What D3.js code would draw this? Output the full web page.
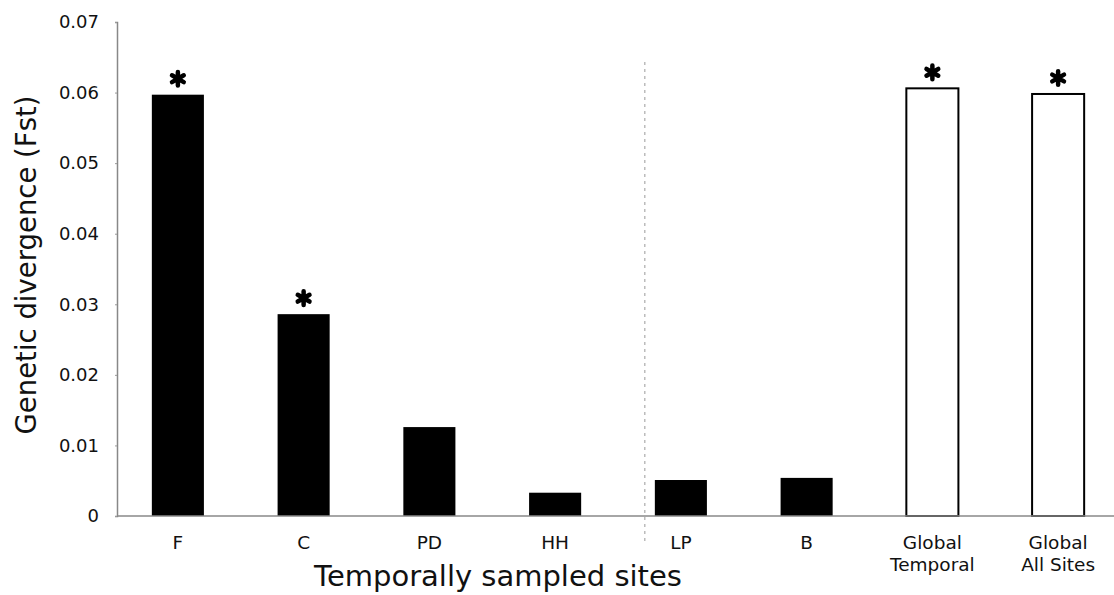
<!DOCTYPE html>
<html>
<head>
<meta charset="utf-8">
<script src="https://cdn.jsdelivr.net/npm/d3@7"></script>
<style>
  body { margin: 0; background: #fff; }
  svg { display: block; font-family: "DejaVu Sans", Verdana, sans-serif; }
  .tick text { fill: #111; }
</style>
</head>
<body>
<svg id="chart" width="1114" height="595"></svg>
<script>
// data
var sites = ['F', 'C', 'PD', 'HH', 'LP', 'B', 'Global Temporal', 'Global All Sites'];
var siteLabels = [['F'], ['C'], ['PD'], ['HH'], ['LP'], ['B'], ['Global', 'Temporal'], ['Global', 'All Sites']];
var fst = [0.0597, 0.0286, 0.0126, 0.0033, 0.0051, 0.0054, 0.0606, 0.0598];
var significant = [true, true, false, false, false, false, true, true];
var hollow = [false, false, false, false, false, false, true, true];
var yTicks = [0, 0.01, 0.02, 0.03, 0.04, 0.05, 0.06, 0.07];

var svg = d3.select('#chart');
var axisX = 117, plotBottom = 516, plotTop = 22;

var x = d3.scaleBand()
	.domain(sites)
	.range([115, 1121])
	.paddingInner(0.586)
	.paddingOuter(0.293);

var y = d3.scaleLinear()
	.domain([0, 0.07])
	.range([plotBottom, plotTop]);

// divider between the site groups (just left of LP bar)
var divX = x('LP') - 10;
svg.append('line')
	.attr('x1', divX).attr('x2', divX)
	.attr('y1', 62).attr('y2', 545)
	.attr('stroke', '#999')
	.attr('stroke-width', 1)
	.attr('stroke-dasharray', '3,4');

// bars
svg.selectAll('rect.bar')
	.data(sites)
	.enter().append('rect')
	.attr('class', 'bar')
	.attr('x', function(d) { return x(d); })
	.attr('width', x.bandwidth())
	.attr('y', function(d, i) { return y(fst[i]); })
	.attr('height', function(d, i) { return plotBottom - y(fst[i]); })
	.attr('fill', function(d, i) { return hollow[i] ? '#fff' : '#000'; })
	.attr('stroke', '#000')
	.attr('stroke-width', function(d, i) { return hollow[i] ? 2 : 0; });

// significance asterisks
var star = d3.symbol().type(d3.symbolAsterisk).size(130);
svg.selectAll('path.star')
	.data(sites.filter(function(d, i) { return significant[i]; }))
	.enter().append('path')
	.attr('class', 'star')
	.attr('d', star)
	.attr('transform', function(d) {
		var i = sites.indexOf(d);
		return 'translate(' + (x(d) + x.bandwidth() / 2) + ',' + (y(fst[i]) - 16) + ')';
	})
	.attr('stroke', '#000')
	.attr('stroke-width', 4.5)
	.attr('stroke-linecap', 'round');

// y axis
var yAxis = svg.append('g')
	.attr('transform', 'translate(' + axisX + ',0)')
	.call(d3.axisLeft(y)
		.tickValues(yTicks)
		.tickSize(2)
		.tickPadding(16)
		.tickFormat(function(d) { return d === 0 ? '0' : d3.format('.2f')(d); }));
yAxis.select('.domain').attr('stroke', '#888').attr('stroke-width', 1.5);
yAxis.selectAll('.tick line').attr('stroke', '#999');
yAxis.selectAll('.tick text').attr('font-size', 18).attr('font-family', '"DejaVu Sans", Verdana, sans-serif');

// x axis baseline
svg.append('line')
	.attr('x1', axisX).attr('x2', 1114)
	.attr('y1', plotBottom).attr('y2', plotBottom)
	.attr('stroke', '#888')
	.attr('stroke-width', 1.5);

// category labels
var cat = svg.selectAll('text.cat')
	.data(sites)
	.enter().append('text')
	.attr('class', 'cat')
	.attr('text-anchor', 'middle')
	.attr('font-size', 18.5)
	.attr('fill', '#111');
cat.each(function(d, i) {
	var t = d3.select(this);
	siteLabels[i].forEach(function(line, j) {
		t.append('tspan')
			.attr('x', x(d) + x.bandwidth() / 2)
			.attr('y', 549 + j * 22)
			.text(line);
	});
});

// axis titles
svg.append('text')
	.attr('x', 498)
	.attr('y', 586)
	.attr('text-anchor', 'middle')
	.attr('font-size', 29)
	.attr('fill', '#111')
	.text('Temporally sampled sites');

svg.append('text')
	.attr('transform', 'translate(36,265) rotate(-90)')
	.attr('text-anchor', 'middle')
	.attr('font-size', 27.5)
	.attr('fill', '#111')
	.text('Genetic divergence (Fst)');
</script>
</body>
</html>
